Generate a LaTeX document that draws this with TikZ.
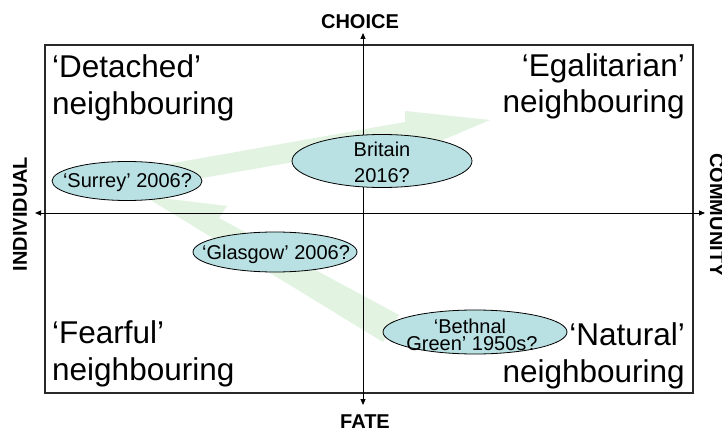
\documentclass[tikz,border=0pt]{standalone}
\usepackage{fontspec}
\setmainfont{Liberation Sans}
\usetikzlibrary{arrows.meta,shapes.geometric}
\definecolor{bubblefill}{RGB}{185,224,226}
\definecolor{flowgreen}{RGB}{226,243,226}
\definecolor{framegray}{RGB}{40,40,40}
\begin{document}
\begin{tikzpicture}[x=1pt,y=-1pt,
  quad/.style={inner sep=0pt,font=\fontsize{31.5}{37}\selectfont},
  bubble/.style={ellipse,draw=black,line width=0.8pt,fill=bubblefill,inner sep=0pt},
  btext/.style={inner sep=0pt,anchor=base,font=\fontsize{20}{24}\selectfont},
  axislabel/.style={inner sep=0pt,anchor=base,font=\bfseries\fontsize{20}{24}\selectfont},
  axisline/.style={line width=0.9pt,{Triangle[length=6pt,width=5pt]}-{Triangle[length=6pt,width=5pt]}},
  flow/.style={fill=flowgreen,draw=none}]

\useasboundingbox (0,0) rectangle (722,430);
\fill[white] (0,0) rectangle (722,430);

% broad green arrows
\fill[flow] (383,342) -- (399,315) -- (219,218) -- (227,206) -- (144,196) -- cycle;
\fill[flow] (140,169) -- (405,122) -- (405,111) -- (490,120) -- (412,153) -- (407,142) -- (140,189) -- cycle;

% frame
\draw[framegray,line width=1.1pt] (45,45) rectangle (693,393);

% axes
\coordinate (N) at (363,33);
\coordinate (S) at (363,405);
\coordinate (W) at (35,213);
\coordinate (E) at (705,213);
\draw[axisline] (W) -- (E);
\draw[axisline] (S) -- (N);

% bubbles
\node[bubble,minimum width=150pt,minimum height=39pt] (surrey) at (127,181) {};
\node[btext] (surreytxt) at (127.5,188) {‘Surrey’ 2006?};
\node[bubble,minimum width=180pt,minimum height=53pt] (britain) at (382,161) {};
\node[btext] (britaintxta) at (382,157) {Britain};
\node[btext] (britaintxtb) at (382,183) {2016?};
\node[bubble,minimum width=164pt,minimum height=40pt] (glasgow) at (275,252) {};
\node[btext] (glasgowtxt) at (276,259) {‘Glasgow’ 2006?};
\node[bubble,minimum width=184pt,minimum height=44pt] (bethnal) at (475,332) {};
\node[btext] (bethnaltxta) at (470,333) {‘Bethnal};
\node[btext] (bethnaltxtb) at (472,350) {Green’ 1950s?};

% quadrant texts
\node[quad,anchor=base west] (deta) at (52,78) {‘Detached’};
\node[quad,anchor=base west] (detb) at (52,115) {neighbouring};
\node[quad,anchor=base east] (egaa) at (685,77) {‘Egalitarian’};
\node[quad,anchor=base east] (egab) at (685,113) {neighbouring};
\node[quad,anchor=base west] (feaa) at (52,343) {‘Fearful’};
\node[quad,anchor=base west] (feab) at (52,380) {neighbouring};
\node[quad,anchor=base east] (nata) at (685,345) {‘Natural’};
\node[quad,anchor=base east] (natb) at (685,382) {neighbouring};

% axis labels
\node[axislabel] (choice) at (360,29) {CHOICE};
\node[axislabel] (fate) at (365,428) {FATE};
\node[axislabel,rotate=90] (indiv) at (27,214) {INDIVIDUAL};
\node[axislabel,rotate=-90] (commun) at (710,215) {COMMUNITY};
\end{tikzpicture}
\end{document}
